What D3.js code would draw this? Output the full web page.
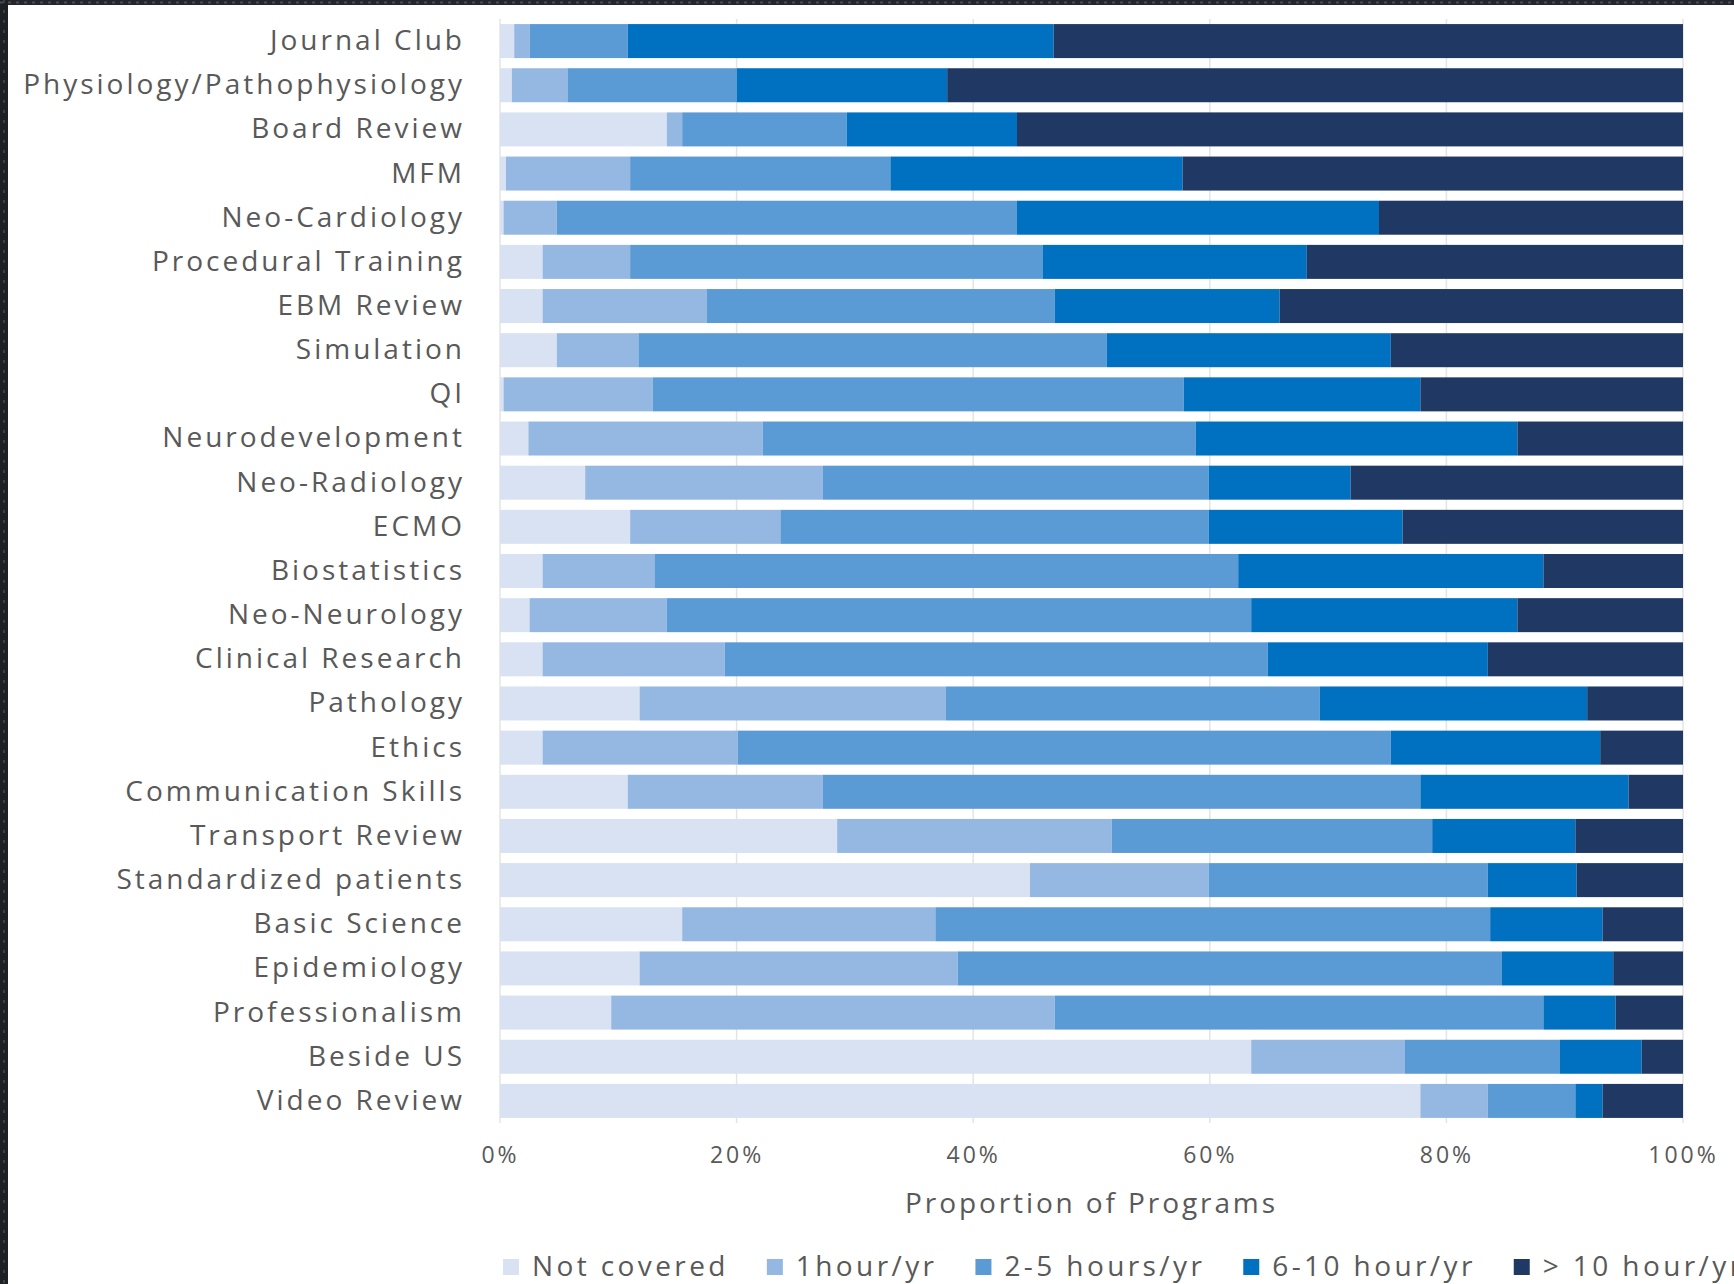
<!DOCTYPE html>
<html>
<head>
<meta charset="utf-8">
<script src="https://cdn.jsdelivr.net/npm/d3@7"></script>
<style>
  body { margin: 0; background: #fff; }
  svg { display: block; }
  text { font-family: "Open Sans", sans-serif; fill: #595959; }
</style>
</head>
<body>
<svg id="chart" width="1734" height="1284"></svg>
<script>
// topics, top to bottom
var categories = ["Journal Club", "Physiology/Pathophysiology", "Board Review", "MFM",
  "Neo-Cardiology", "Procedural Training", "EBM Review", "Simulation", "QI",
  "Neurodevelopment", "Neo-Radiology", "ECMO", "Biostatistics", "Neo-Neurology",
  "Clinical Research", "Pathology", "Ethics", "Communication Skills", "Transport Review",
  "Standardized patients", "Basic Science", "Epidemiology", "Professionalism",
  "Beside US", "Video Review"];

// percent of programs per category
var notCovered = [1.2, 1.0, 14.1, 0.5, 0.3, 3.6, 3.6, 4.8, 0.3, 2.4, 7.2, 11.0, 3.6, 2.5, 3.6, 11.8, 3.6, 10.8, 28.5, 44.8, 15.4, 11.8, 9.4, 63.5, 77.8];
var oneHour    = [1.3, 4.7, 1.3, 10.5, 4.5, 7.4, 13.9, 6.9, 12.6, 19.8, 20.1, 12.7, 9.5, 11.6, 15.4, 25.9, 16.5, 16.5, 23.2, 15.1, 21.4, 26.9, 37.5, 13.0, 5.7];
var twoToFive  = [8.3, 14.3, 13.9, 22.0, 38.9, 34.9, 29.4, 39.6, 44.9, 36.6, 32.6, 36.2, 49.3, 49.4, 45.9, 31.6, 55.2, 50.5, 27.1, 23.6, 46.9, 46.0, 41.3, 13.1, 7.4];
var sixToTen   = [36.0, 17.8, 14.4, 24.7, 30.6, 22.3, 19.0, 24.0, 20.0, 27.2, 12.0, 16.4, 25.8, 22.5, 18.6, 22.6, 17.7, 17.6, 12.1, 7.5, 9.5, 9.4, 6.1, 6.9, 2.3];
var overTen    = [53.2, 62.2, 56.3, 42.3, 25.7, 31.8, 34.1, 24.7, 22.2, 14.0, 28.1, 23.7, 11.8, 14.0, 16.5, 8.1, 7.0, 4.6, 9.1, 9.0, 6.8, 5.9, 5.7, 3.5, 6.8];

var seriesNames = ["Not covered", "1hour/yr", "2-5 hours/yr", "6-10 hour/yr", "> 10 hour/yr"];
var seriesColors = ["#d9e2f2", "#95b8e3", "#5b9bd5", "#0070c0", "#203864"];
var xTicks = [0, 0.2, 0.4, 0.6, 0.8, 1];

var seriesValues = [notCovered, oneHour, twoToFive, sixToTen, overTen];
var rows = categories.map(function(c, i) {
  var r = { category: c };
  seriesNames.forEach(function(s, j) { r[s] = seriesValues[j][i]; });
  return r;
});

var svg = d3.select('#chart');
var plotLeft = 500, plotRight = 1683, plotTop = 19, plotBottom = 1123;

var x = d3.scaleLinear().domain([0, 1]).range([plotLeft, plotRight]);
var y = d3.scaleBand().domain(categories).range([plotTop, plotBottom])
  .paddingInner(0.23).paddingOuter(0.115);
var color = d3.scaleOrdinal().domain(seriesNames).range(seriesColors);

var stacked = d3.stack().keys(seriesNames).offset(d3.stackOffsetExpand)(rows);

// frame of the screenshot
svg.append('rect').attr('x', 0).attr('y', 0).attr('width', 1734).attr('height', 5).attr('fill', '#23272c');
svg.append('rect').attr('x', 0).attr('y', 0).attr('width', 8).attr('height', 1284).attr('fill', '#1d2126');
svg.append('line').attr('x1', 0).attr('x2', 1734).attr('y1', 2.5).attr('y2', 2.5)
  .attr('stroke', '#4a4f55').attr('stroke-width', 2).attr('stroke-dasharray', '3,5');
svg.append('line').attr('x1', 4).attr('x2', 4).attr('y1', 0).attr('y2', 1284)
  .attr('stroke', '#3c4147').attr('stroke-width', 2).attr('stroke-dasharray', '3,7');

// gridlines
svg.append('g')
  .selectAll('line')
  .data(xTicks)
  .enter().append('line')
  .attr('x1', function(d) { return x(d); })
  .attr('x2', function(d) { return x(d); })
  .attr('y1', plotTop).attr('y2', plotBottom)
  .attr('stroke', '#e4e4e4').attr('stroke-width', 1.5);

// bars
var layer = svg.append('g')
  .selectAll('g')
  .data(stacked)
  .enter().append('g')
  .attr('fill', function(d) { return color(d.key); });

layer.selectAll('rect')
  .data(function(d) { return d; })
  .enter().append('rect')
  .attr('x', function(d) { return x(d[0]); })
  .attr('width', function(d) { return x(d[1]) - x(d[0]); })
  .attr('y', function(d) { return y(d.data.category); })
  .attr('height', y.bandwidth());

// category labels
var yAxis = svg.append('g')
  .attr('transform', 'translate(' + plotLeft + ',0)')
  .call(d3.axisLeft(y).tickSize(0).tickPadding(35));
yAxis.select('.domain').remove();
yAxis.selectAll('text')
  .attr('fill', '#595959')
  .style('font-family', '"Open Sans", sans-serif')
  .style('font-size', '28px')
  .style('letter-spacing', '3px');

// percent ticks
var xAxis = svg.append('g')
  .attr('transform', 'translate(0,' + plotBottom + ')')
  .call(d3.axisBottom(x).tickValues(xTicks).tickFormat(d3.format('.0%')).tickSize(0).tickPadding(24));
xAxis.select('.domain').remove();
xAxis.selectAll('text')
  .attr('fill', '#7f7f7f')
  .style('font-family', '"Open Sans", sans-serif')
  .style('font-size', '23px')
  .style('letter-spacing', '3px');

svg.append('text')
  .attr('x', (plotLeft + plotRight) / 2)
  .attr('y', 1213)
  .attr('text-anchor', 'middle')
  .style('font-size', '28px')
  .style('letter-spacing', '2.9px')
  .text('Proportion of Programs');

// legend
var legend = svg.append('g').attr('transform', 'translate(503,1266)');
var lx = 0;
seriesNames.forEach(function(name) {
  var item = legend.append('g').attr('transform', 'translate(' + lx + ',0)');
  item.append('rect').attr('x', 0).attr('y', -7).attr('width', 16).attr('height', 16)
    .attr('fill', color(name));
  var t = item.append('text').attr('x', 29).attr('y', 10)
    .style('font-size', '28px')
    .style('letter-spacing', '3.4px')
    .text(name);
  lx += 29 + t.node().getComputedTextLength() + 38;
});
</script>
</body>
</html>
